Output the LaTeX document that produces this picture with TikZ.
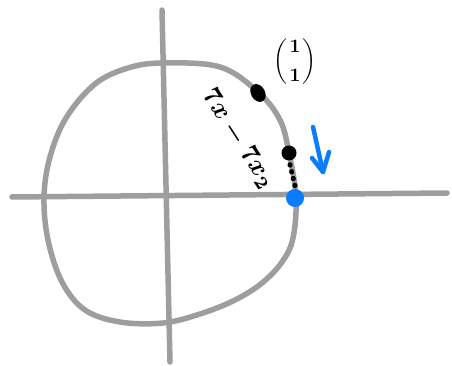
\documentclass[tikz,border=0pt]{standalone}
\usepackage{amsmath}
\usetikzlibrary{shapes.geometric,calc}
\definecolor{axisgray}{RGB}{158,158,158}
\definecolor{penblue}{RGB}{10,124,255}
\tikzset{
  axisline/.style={draw=axisgray,line width=5.5pt,line cap=round,line join=round},
  bigdot/.style={fill=black},
  penarrow/.style={draw=penblue,line width=4.5pt,line cap=round,line join=round},
  inkfont/.style={inner sep=0pt}
}
\begin{document}
\begin{tikzpicture}[x=1pt,y=-1pt]
\useasboundingbox (0,0) rectangle (452,366);
% axes
\coordinate (hl) at (12,197);
\coordinate (hr) at (447,193);
\coordinate (vt) at (162,10);
\coordinate (vb) at (170,362);
\draw[axisline] (hl) -- (hr);
\draw[axisline] (vt) -- (vb);
% hand-drawn unit circle
\draw[axisline] plot[smooth cycle,tension=0.6] coordinates {
 (163,63) (220,67) (258,92) (280,120) (289,153) (296,197) (293,238)
 (282,262) (262,283) (235,300) (200,314) (163,323) (120,322) (85,310)
 (62,282) (48,240) (44,197) (50,157) (66,118) (95,84) (128,68)};
% points
\node[bigdot,ellipse,minimum width=14pt,minimum height=19pt,rotate=30,inner sep=0pt] (p0) at (258,93) {};
\node[bigdot,circle,minimum size=15pt,inner sep=0pt] (p1) at (289,153) {};
\node[fill=penblue,circle,minimum size=18pt,inner sep=0pt] (p2) at (295,198) {};
\draw[line width=5pt,line cap=round,dash pattern=on 0.5pt off 6.5pt] ($(p1.south)+(1,4)$) -- ($(p2.north)+(0,-3)$);
% label vector
\node[inkfont,scale=1.9] (vec) at (295,62) {$\boldsymbol{\left(\genfrac{}{}{0pt}{0}{1}{1}\right)}$};
% diagonal text
\node[inkfont,rotate=-57,scale=2.6] (lab) at (238,139) {$\boldsymbol{7x-7x_2}$};
% blue arrow
\coordinate (a1) at (313,127);
\coordinate (a2) at (323,172);
\coordinate (ah1) at (312,158);
\coordinate (ah2) at (329,152);
\draw[penarrow] (a1) -- (a2);
\draw[penarrow] (ah1) -- (a2) -- (ah2);
\end{tikzpicture}
\end{document}
